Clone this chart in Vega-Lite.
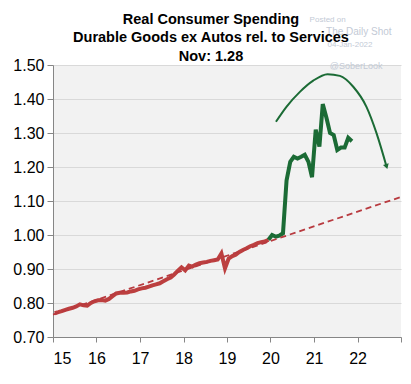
{
  "$schema": "https://vega.github.io/schema/vega-lite/v6.json",
  "width": 348,
  "height": 272,
  "autosize": {"type": "none"},
  "padding": {"left": 53, "top": 65, "right": 10, "bottom": 47},
  "background": "white",
  "title": {
    "text": ["Real Consumer Spending", "Durable Goods ex Autos rel. to Services", "Nov: 1.28"],
    "font": "Liberation Sans",
    "fontSize": 14.5,
    "fontWeight": "bold",
    "lineHeight": 18.5,
    "color": "black",
    "anchor": "middle",
    "frame": "group",
    "dx": -16,
    "dy": 53,
    "offset": 5
  },
  "config": {
    "view": {"fill": "#f2f2f2", "stroke": null},
    "axis": {
      "labelFont": "Liberation Sans",
      "labelFontSize": 16,
      "labelColor": "black",
      "domainColor": "#868686",
      "tickColor": "#868686",
      "title": null
    }
  },
  "encoding": {
    "x": {
      "field": "d",
      "type": "temporal",
      "scale": {"domain": [{"year": 2015, "month": 1, "date": 1}, {"year": 2023, "month": 1, "date": 1}]},
      "axis": {
        "values": [{"year": 2015}, {"year": 2016}, {"year": 2017}, {"year": 2018}, {"year": 2019}, {"year": 2020}, {"year": 2021}, {"year": 2022}, {"year": 2023}],
        "labelExpr": "year(datum.value) < 2023 ? timeFormat(datum.value, '%y') : ''",
        "grid": false,
        "tickSize": 5,
        "labelPadding": 8
      }
    },
    "y": {
      "field": "v",
      "type": "quantitative",
      "scale": {"domain": [0.7, 1.5], "nice": false, "zero": false},
      "axis": {
        "values": [0.7, 0.8, 0.9, 1.0, 1.1, 1.2, 1.3, 1.4, 1.5],
        "format": ".2f",
        "grid": true,
        "gridColor": "#d9d9d9",
        "tickSize": 6,
        "labelPadding": 3
      }
    }
  },
  "layer": [
    {
      "data": {"values": [
        {"d": "2015/01/15", "v": 0.770}, {"d": "2015/02/15", "v": 0.773}, {"d": "2015/03/15", "v": 0.776}, {"d": "2015/04/15", "v": 0.780},
        {"d": "2015/05/15", "v": 0.783}, {"d": "2015/06/15", "v": 0.786}, {"d": "2015/07/15", "v": 0.790}, {"d": "2015/08/15", "v": 0.796},
        {"d": "2015/09/15", "v": 0.793}, {"d": "2015/10/15", "v": 0.792}, {"d": "2015/11/15", "v": 0.800}, {"d": "2015/12/15", "v": 0.805},
        {"d": "2016/01/15", "v": 0.808}, {"d": "2016/02/15", "v": 0.809}, {"d": "2016/03/15", "v": 0.807}, {"d": "2016/04/15", "v": 0.812},
        {"d": "2016/05/15", "v": 0.820}, {"d": "2016/06/15", "v": 0.828}, {"d": "2016/07/15", "v": 0.830}, {"d": "2016/08/15", "v": 0.830},
        {"d": "2016/09/15", "v": 0.831}, {"d": "2016/10/15", "v": 0.834}, {"d": "2016/11/15", "v": 0.836}, {"d": "2016/12/15", "v": 0.840},
        {"d": "2017/01/15", "v": 0.843}, {"d": "2017/02/15", "v": 0.845}, {"d": "2017/03/15", "v": 0.848}, {"d": "2017/04/15", "v": 0.852},
        {"d": "2017/05/15", "v": 0.855}, {"d": "2017/06/15", "v": 0.858}, {"d": "2017/07/15", "v": 0.864}, {"d": "2017/08/15", "v": 0.870},
        {"d": "2017/09/15", "v": 0.875}, {"d": "2017/10/15", "v": 0.884}, {"d": "2017/11/15", "v": 0.895}, {"d": "2017/12/15", "v": 0.905},
        {"d": "2018/01/15", "v": 0.896}, {"d": "2018/02/15", "v": 0.910}, {"d": "2018/03/15", "v": 0.907}, {"d": "2018/04/15", "v": 0.913},
        {"d": "2018/05/15", "v": 0.917}, {"d": "2018/06/15", "v": 0.919}, {"d": "2018/07/15", "v": 0.921}, {"d": "2018/08/15", "v": 0.924},
        {"d": "2018/09/15", "v": 0.926}, {"d": "2018/10/15", "v": 0.928}, {"d": "2018/11/15", "v": 0.946}, {"d": "2018/12/15", "v": 0.902},
        {"d": "2019/01/15", "v": 0.931}, {"d": "2019/02/15", "v": 0.938}, {"d": "2019/03/15", "v": 0.942}, {"d": "2019/04/15", "v": 0.950},
        {"d": "2019/05/15", "v": 0.956}, {"d": "2019/06/15", "v": 0.961}, {"d": "2019/07/15", "v": 0.967}, {"d": "2019/08/15", "v": 0.971},
        {"d": "2019/09/15", "v": 0.976}, {"d": "2019/10/15", "v": 0.979}, {"d": "2019/11/15", "v": 0.981}, {"d": "2019/12/15", "v": 0.986}
      ]},
      "mark": {"type": "line", "color": "#bc3f3f", "strokeWidth": 4}
    },
    {
      "data": {"values": [
        {"d": "2019/12/15", "v": 0.986}, {"d": "2020/01/15", "v": 1.000}, {"d": "2020/02/15", "v": 0.995}, {"d": "2020/03/15", "v": 0.998},
        {"d": "2020/04/15", "v": 1.005}, {"d": "2020/05/15", "v": 1.160}, {"d": "2020/06/15", "v": 1.215}, {"d": "2020/07/15", "v": 1.230},
        {"d": "2020/08/15", "v": 1.225}, {"d": "2020/09/15", "v": 1.230}, {"d": "2020/10/15", "v": 1.236}, {"d": "2020/11/15", "v": 1.215},
        {"d": "2020/12/15", "v": 1.170}, {"d": "2021/01/15", "v": 1.310}, {"d": "2021/02/15", "v": 1.260}, {"d": "2021/03/15", "v": 1.385},
        {"d": "2021/04/15", "v": 1.345}, {"d": "2021/05/15", "v": 1.300}, {"d": "2021/06/15", "v": 1.294}, {"d": "2021/07/15", "v": 1.250},
        {"d": "2021/08/15", "v": 1.257}, {"d": "2021/09/15", "v": 1.257}, {"d": "2021/10/15", "v": 1.286}, {"d": "2021/11/15", "v": 1.276}
      ]},
      "mark": {"type": "line", "color": "#1b6b35", "strokeWidth": 4}
    },
    {
      "data": {"values": [
        {"d": "2015/01/01", "v": 0.766}, {"d": "2023/01/01", "v": 1.112}
      ]},
      "mark": {"type": "line", "color": "#b83a3f", "strokeWidth": 1.8, "strokeDash": [6, 4]}
    },
    {
      "data": {"values": [
        {"d": "2020/02/16", "v": 1.333}, {"d": "2020/05/14", "v": 1.377}, {"d": "2020/09/04", "v": 1.421},
        {"d": "2020/12/25", "v": 1.454}, {"d": "2021/04/24", "v": 1.473}, {"d": "2021/08/06", "v": 1.468},
        {"d": "2021/11/26", "v": 1.436}, {"d": "2022/03/17", "v": 1.377}, {"d": "2022/06/10", "v": 1.299},
        {"d": "2022/09/02", "v": 1.201}
      ]},
      "mark": {"type": "line", "color": "#1b6b35", "strokeWidth": 2, "interpolate": "monotone"}
    },
    {
      "data": {"values": [{"d": "2022/09/02", "v": 1.201}]},
      "mark": {"type": "point", "shape": "triangle-down", "filled": true, "color": "#1b6b35", "size": 35, "angle": -17, "opacity": 1}
    },
    {
      "data": {"values": [
        {"d": "2021/04/25", "v": 1.632, "label": "Posted on", "fs": 8},
        {"d": "2022/01/12", "v": 1.597, "label": "The Daily Shot", "fs": 10},
        {"d": "2021/10/30", "v": 1.559, "label": "04-Jan-2022", "fs": 8},
        {"d": "2021/12/20", "v": 1.497, "label": "@SoberLook", "fs": 9}
      ]},
      "mark": {"type": "text", "font": "Liberation Sans", "color": "#c3cad6", "align": "center", "baseline": "middle"},
      "encoding": {
        "text": {"field": "label"},
        "size": {"field": "fs", "type": "quantitative", "scale": null}
      }
    }
  ]
}
